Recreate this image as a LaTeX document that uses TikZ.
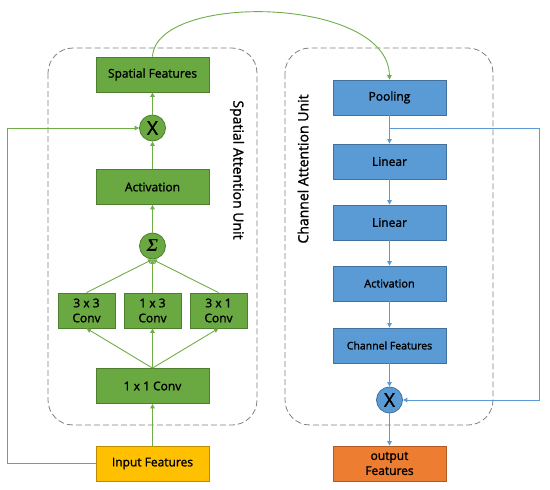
\documentclass[tikz,border=0pt]{standalone}
\usepackage{fontspec}
\setmainfont{Open Sans}[BoldFont={Open Sans},BoldFeatures={FakeBold=1.5}]
\newfontfamily\serifg{Liberation Serif}
\usetikzlibrary{arrows.meta}
\definecolor{gfill}{HTML}{6AA842}
\definecolor{gdraw}{HTML}{4E7F2E}
\definecolor{gline}{HTML}{70AD47}
\definecolor{bfill}{HTML}{5B9BD5}
\definecolor{bdraw}{HTML}{41719C}
\definecolor{yfill}{HTML}{FFC000}
\definecolor{ydraw}{HTML}{BC8C00}
\definecolor{ofill}{HTML}{ED7D31}
\definecolor{odraw}{HTML}{AE5A21}
\tikzset{
  gbox/.style={draw=gdraw,fill=gfill,line width=0.8pt,minimum width=113pt,minimum height=35pt,inner sep=0pt,font=\fontsize{12}{15}\selectfont\bfseries,align=center},
  gsmall/.style={gbox,minimum width=57pt},
  bbox/.style={draw=bdraw,fill=bfill,line width=0.8pt,minimum width=113pt,minimum height=35pt,inner sep=0pt,font=\fontsize{12}{14}\selectfont\bfseries,align=center},
  gcirc/.style={circle,draw=gdraw,fill=gfill,line width=0.8pt,minimum size=26pt,inner sep=0pt},
  bcirc/.style={circle,draw=bdraw,fill=bfill,line width=0.8pt,minimum size=26pt,inner sep=0pt},
  garr/.style={draw=gline,line width=0.9pt,-{Triangle[length=4.5pt,width=4.5pt]}},
  barr/.style={draw=bfill,line width=0.9pt,-{Triangle[length=4.5pt,width=4.5pt]}},
  unitbox/.style={draw=gray,dashed,dash pattern=on 6pt off 3pt,line width=0.8pt,rounded corners=25pt},
  unitlabel/.style={font=\fontsize{14}{16}\selectfont\bfseries}
}
\begin{document}
\begin{tikzpicture}[x=1pt,y=-1pt]
\useasboundingbox (0,0) rectangle (550,490);
% dashed unit boxes
\draw[unitbox] (48,48) rectangle (257,425);
\draw[unitbox] (285,48) rectangle (493,425);
\node[unitlabel,rotate=-90] (sal) at (237,170) {Spatial Attention Unit};
\node[unitlabel,rotate=90] (cal) at (303,169) {Channel Attention Unit};
% left column
\node[gbox] (sf) at (152.5,74.5) {Spatial Features};
\node[gcirc] (x1) at (152.5,128) {\fontsize{19}{19}\selectfont\bfseries X};
\node[gbox] (act) at (152.5,187) {Activation};
\node[gcirc] (sig) at (152.5,246) {\fontsize{18}{18}\selectfont\serifg\bfseries\itshape Σ};
\node[gsmall] (c33) at (86.5,310.5) {3 x 3\\Conv};
\node[gsmall] (c13) at (152.5,310.5) {1 x 3\\Conv};
\node[gsmall] (c31) at (218.5,310.5) {3 x 1\\Conv};
\node[gbox] (c11) at (152.5,386) {1 x 1 Conv};
\node[draw=ydraw,fill=yfill,line width=0.8pt,minimum width=113pt,minimum height=35pt,inner sep=0pt,font=\fontsize{12}{14}\selectfont\bfseries] (inp) at (152.5,463.5) {Input Features};
% right column
\node[bbox] (pool) at (389.5,97.5) {Pooling};
\node[bbox] (lin1) at (389.5,161.5) {Linear};
\node[bbox] (lin2) at (389.5,222.5) {Linear};
\node[bbox,font=\fontsize{11}{13}\selectfont\bfseries] (act2) at (389.5,283.5) {Activation};
\node[bbox,font=\fontsize{10.5}{12}\selectfont\bfseries] (chf) at (389.5,345.5) {Channel Features};
\node[bcirc] (x2) at (389.5,400) {\fontsize{19}{19}\selectfont\bfseries X};
\node[draw=odraw,fill=ofill,line width=0.8pt,minimum width=113pt,minimum height=35pt,inner sep=0pt,font=\fontsize{12}{15}\selectfont\bfseries,align=center] (out) at (389.5,463.5) {output\\Features};
% left connectors
\draw[garr] (inp.north) -- (c11.south);
\draw[garr] (c11.north) -- (c33.south);
\draw[garr] (c11.north) -- (c13.south);
\draw[garr] (c11.north) -- (c31.south);
\draw[garr] (c33.north) -- (sig.south);
\draw[garr] (c13.north) -- (sig.south);
\draw[garr] (c31.north) -- (sig.south);
\draw[garr] (sig.north) -- (act.south);
\draw[garr] (act.north) -- (x1.south);
\draw[garr] (x1.north) -- (sf.south);
\coordinate (lc) at (7,463.5);
\draw[garr] (inp.west) -- (lc) |- (x1.west);
\draw[garr] (sf.north) .. controls (156,-8) and (388,-4) .. (pool.north);
% right connectors
\draw[barr] (pool.south) -- (lin1.north);
\draw[barr] (lin1.south) -- (lin2.north);
\draw[barr] (lin2.south) -- (act2.north);
\draw[barr] (act2.south) -- (chf.north);
\draw[barr] (chf.south) -- (x2.north);
\draw[barr] (x2.south) -- (out.north);
\coordinate (br) at (539,128);
\coordinate (tap) at (389.5,128);
\draw[barr] (tap) -- (br) |- (x2.east);
\end{tikzpicture}
\end{document}
